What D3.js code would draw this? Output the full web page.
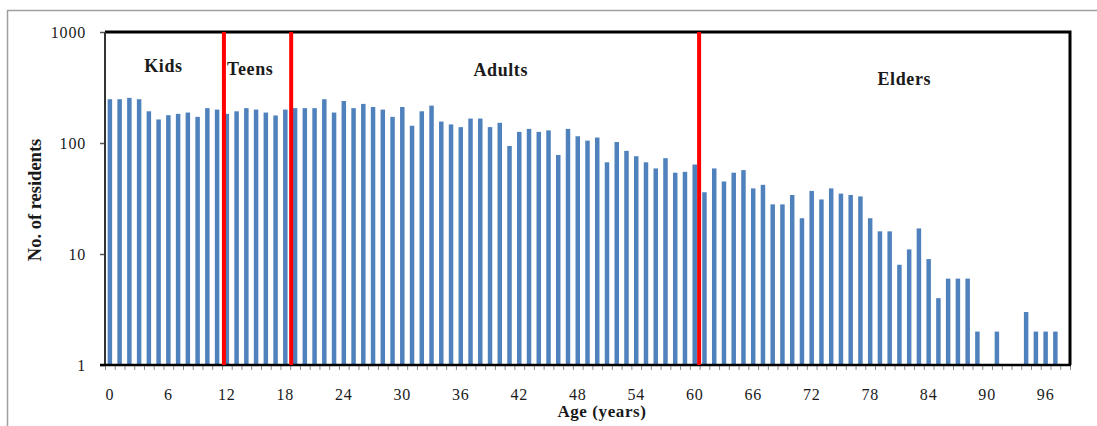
<!DOCTYPE html>
<html>
<head>
<meta charset="utf-8">
<script src="https://cdn.jsdelivr.net/npm/d3@7"></script>
<style>
  html, body { margin: 0; padding: 0; background: #fff; }
  svg { display: block; }
  text { font-family: "Liberation Serif", "Times New Roman", serif; fill: #1a1a1a; }
</style>
</head>
<body>
<div id="chart"></div>
<script>
// ages 0..98, one bar each (log axis, value 1 draws nothing)
const ages = d3.range(0, 99);
const residents = [
  248, 248, 255, 248, 193, 163, 178, 183, 188, 172,
  206, 200, 183, 193, 206, 200, 188, 177, 200, 206,
  206, 206, 248, 188, 239, 206, 225, 211, 200, 172,
  211, 143, 193, 217, 156, 147, 139, 166, 166, 139,
  152, 94, 126, 134, 126, 130, 78, 134, 115, 105,
  112, 67, 102, 85, 76, 67, 59, 73, 54, 55,
  64, 36, 59, 45, 54, 57, 39, 42, 28, 28,
  34, 21, 37, 31, 39, 35, 34, 33, 21, 16,
  16, 8, 11, 17, 9, 4, 6, 6, 6, 2,
  1, 2, 1, 1, 3, 2, 2, 2, 1
];
const ageTickLabels = d3.range(0, 99, 6);
const yTickValues = [1, 10, 100, 1000];

// group boundaries, in age units along the category axis
const groupCuts = [12.2, 19.1, 60.95];
const groupNames = ["Kids", "Teens", "Adults", "Elders"];
const groupLabelAge = [6.0, 14.9, 40.6, 82.0];

const W = 1097, H = 426;
const plot = { left: 105, right: 1070, top: 32, bottom: 365 };
const serif = '"Liberation Serif", "Times New Roman", serif';

const svg = d3.select("#chart").append("svg")
  .attr("width", W).attr("height", H);

// outer frame of the figure
svg.append("path")
  .attr("d", `M7.5,${H} V10.5 H${W}`)
  .attr("fill", "none").attr("stroke", "#a0a0a0").attr("stroke-width", 1.5);

const x = d3.scaleBand()
  .domain(ages)
  .range([plot.left, plot.right])
  .paddingInner(0.54)
  .paddingOuter(0.27);

const xPos = d3.scaleLinear()
  .domain([0, ages.length])
  .range([plot.left, plot.right]);

const y = d3.scaleLog()
  .domain([1, 1000])
  .range([plot.bottom, plot.top]);

// bars
svg.append("g")
  .selectAll("rect")
  .data(ages.map((a, i) => ({ age: a, v: residents[i] })))
  .join("rect")
  .attr("x", d => x(d.age))
  .attr("width", x.bandwidth())
  .attr("y", d => y(d.v))
  .attr("height", d => plot.bottom - y(d.v))
  .attr("fill", "#4f81bd");

// category tick marks below the axis
const tickAxis = svg.append("g")
  .attr("transform", `translate(0,${plot.bottom})`)
  .call(d3.axisBottom(xPos).tickValues(d3.range(0, ages.length + 1)).tickSize(5).tickFormat(""));
tickAxis.select(".domain").remove();
tickAxis.selectAll("line").attr("stroke", "#8c8c8c");

// age labels every 6 years
const labelAxis = svg.append("g")
  .attr("transform", `translate(0,${plot.bottom})`)
  .attr("font-family", serif)
  .call(d3.axisBottom(x).tickValues(ageTickLabels).tickSize(0).tickPadding(24));
labelAxis.attr("font-family", serif);
labelAxis.select(".domain").remove();
labelAxis.selectAll("text")
  .attr("font-size", 16)
  .attr("font-family", serif)
  .attr("fill", "#222")
  .style("letter-spacing", "0.8px");

// log y axis
const yAxis = svg.append("g")
  .attr("transform", `translate(${plot.left},0)`)
  .call(d3.axisLeft(y).tickValues(yTickValues).tickFormat(d3.format("d")).tickSize(5).tickPadding(14));
yAxis.attr("font-family", serif);
yAxis.select(".domain").remove();
yAxis.selectAll("line").attr("stroke", "#555").attr("stroke-width", 1.5);
yAxis.selectAll("text")
  .attr("font-size", 16)
  .attr("font-family", serif)
  .attr("fill", "#222")
  .style("letter-spacing", "0.8px");

// plot frame
svg.append("path")
  .attr("d", `M${plot.left},${plot.top} H${plot.right} V${plot.bottom}`)
  .attr("fill", "none").attr("stroke", "#000").attr("stroke-width", 3);
svg.append("line")
  .attr("x1", plot.left).attr("x2", plot.left)
  .attr("y1", plot.top).attr("y2", plot.bottom + 1)
  .attr("stroke", "#333").attr("stroke-width", 2);
svg.append("line")
  .attr("x1", plot.left - 5).attr("x2", plot.right + 1)
  .attr("y1", plot.bottom).attr("y2", plot.bottom)
  .attr("stroke", "#000").attr("stroke-width", 2.5);

// red group separators
svg.append("g")
  .selectAll("line")
  .data(groupCuts)
  .join("line")
  .attr("x1", d => xPos(d)).attr("x2", d => xPos(d))
  .attr("y1", plot.top).attr("y2", plot.bottom)
  .attr("stroke", "#ff0000").attr("stroke-width", 4);

// group names
const groupY = [72, 75, 76, 85];
svg.append("g")
  .selectAll("text")
  .data(groupNames)
  .join("text")
  .attr("x", (d, i) => xPos(groupLabelAge[i]))
  .attr("y", (d, i) => groupY[i])
  .attr("text-anchor", "middle")
  .attr("font-size", 18)
  .attr("font-weight", "bold")
  .style("letter-spacing", "0.6px")
  .text(d => d);

// axis titles
svg.append("text")
  .attr("x", 602).attr("y", 417)
  .attr("text-anchor", "middle")
  .attr("font-size", 17)
  .attr("font-weight", "bold")
  .style("letter-spacing", "0.6px")
  .text("Age (years)");

svg.append("text")
  .attr("transform", "translate(41,200) rotate(-90)")
  .attr("text-anchor", "middle")
  .attr("font-size", 18.5)
  .attr("font-weight", "bold")
  .text("No. of residents");
</script>
</body>
</html>
